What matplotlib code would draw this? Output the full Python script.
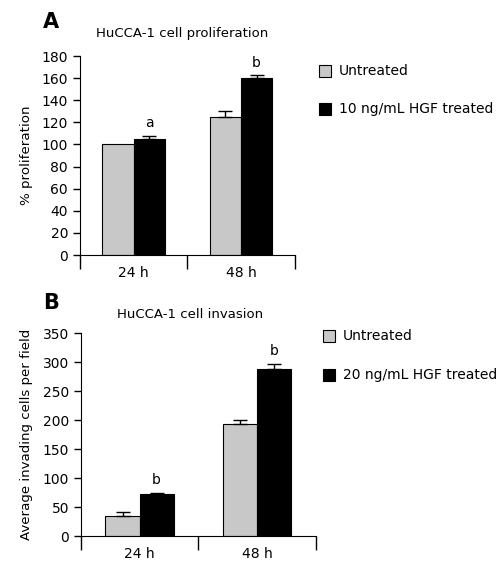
import matplotlib.pyplot as plt
import numpy as np

# data
groups = ["24 h", "48 h"]
prolif_untreated = [100, 125]
prolif_untreated_err = [0, 5]
prolif_hgf = [105, 160]
prolif_hgf_err = [3, 2.5]
prolif_marks = ["a", "b"]

inv_untreated = [35, 193]
inv_untreated_err = [6, 7]
inv_hgf = [73, 288]
inv_hgf_err = [2, 9]
inv_marks = ["b", "b"]

gray = "#c8c8c8"
plt.rcParams['font.family'] = ['DejaVu Sans']

fig = plt.figure(figsize=(5.02, 5.75), dpi=100)


def upper_err(ax, xs, vals, errs):
    # only the upper half of the error bar, skipped when there is none
    for xi, v, e in zip(xs, vals, errs):
        if e > 0:
            ax.errorbar(xi, v, yerr=[[0], [e]], fmt="none", ecolor="black",
                        elinewidth=1, capsize=5, capthick=1)


def panel(ax, untr, untr_err, hgf, hgf_err, marks, ymax, ystep, ylabel):
    x = np.arange(len(groups)) + 0.5
    w = 0.29
    ax.bar(x - w / 2, untr, w, color=gray, edgecolor="black", linewidth=0.8)
    ax.bar(x + w / 2, hgf, w, color="black", edgecolor="black", linewidth=0.8)
    upper_err(ax, x - w / 2, untr, untr_err)
    upper_err(ax, x + w / 2, hgf, hgf_err)
    for xi, v, e, m in zip(x, hgf, hgf_err, marks):
        ax.annotate(m, (xi + w / 2, v + e), xytext=(0, 4), textcoords="offset points",
                    ha="center", va="bottom", fontsize=10)
    ax.set_xlim(0, len(groups))
    ax.set_ylim(0, ymax)
    ax.set_yticks(np.arange(0, ymax + 1, ystep))
    ax.set_xticks([0, 1, 2])
    ax.set_xticklabels([])
    ax.set_xticks(x, minor=True)
    ax.set_xticklabels(groups, minor=True, fontsize=10)
    ax.tick_params(axis="x", which="major", length=10, width=1)
    ax.tick_params(axis="x", which="minor", length=0, pad=8)
    ax.tick_params(axis="y", length=5, width=1, labelsize=10)
    ax.spines["top"].set_visible(False)
    ax.spines["right"].set_visible(False)
    ax.set_ylabel(ylabel, fontsize=9.6)


axA = fig.add_axes([0.159, 0.5565, 0.428, 0.346])
panel(axA, prolif_untreated, prolif_untreated_err, prolif_hgf, prolif_hgf_err,
      prolif_marks, 180, 20, "% proliferation")
axA.yaxis.set_label_coords(-0.22, 0.5)
fig.text(0.363, 1 - 34 / 575, "HuCCA-1 cell proliferation", ha="center", va="center", fontsize=9.5)
fig.text(0.085, 1 - 22 / 575, "A", ha="left", va="center", fontsize=15, fontweight="bold")

axB = fig.add_axes([0.161, 0.0678, 0.468, 0.353])
panel(axB, inv_untreated, inv_untreated_err, inv_hgf, inv_hgf_err,
      inv_marks, 350, 50, "Average invading cells per field")
axB.yaxis.set_label_coords(-0.205, 0.5)
fig.text(0.378, 1 - 315 / 575, "HuCCA-1 cell invasion", ha="center", va="center", fontsize=9.5)
fig.text(0.085, 1 - 303 / 575, "B", ha="left", va="center", fontsize=15, fontweight="bold")

# legends
def legend(x0, ys, labels):
    for y, c, lab in zip(ys, [gray, "black"], labels):
        fig.patches.append(plt.Rectangle((x0 / 502, 1 - (y + 6) / 575), 12 / 502, 12 / 575,
                                         transform=fig.transFigure, facecolor=c,
                                         edgecolor="black", linewidth=0.8))
        fig.text((x0 + 20) / 502, 1 - y / 575, lab, ha="left", va="center", fontsize=10)


legend(319, [71, 109], ["Untreated", "10 ng/mL HGF treated"])
legend(323, [336, 375], ["Untreated", "20 ng/mL HGF treated"])

fig.savefig("out.png", dpi=100)
